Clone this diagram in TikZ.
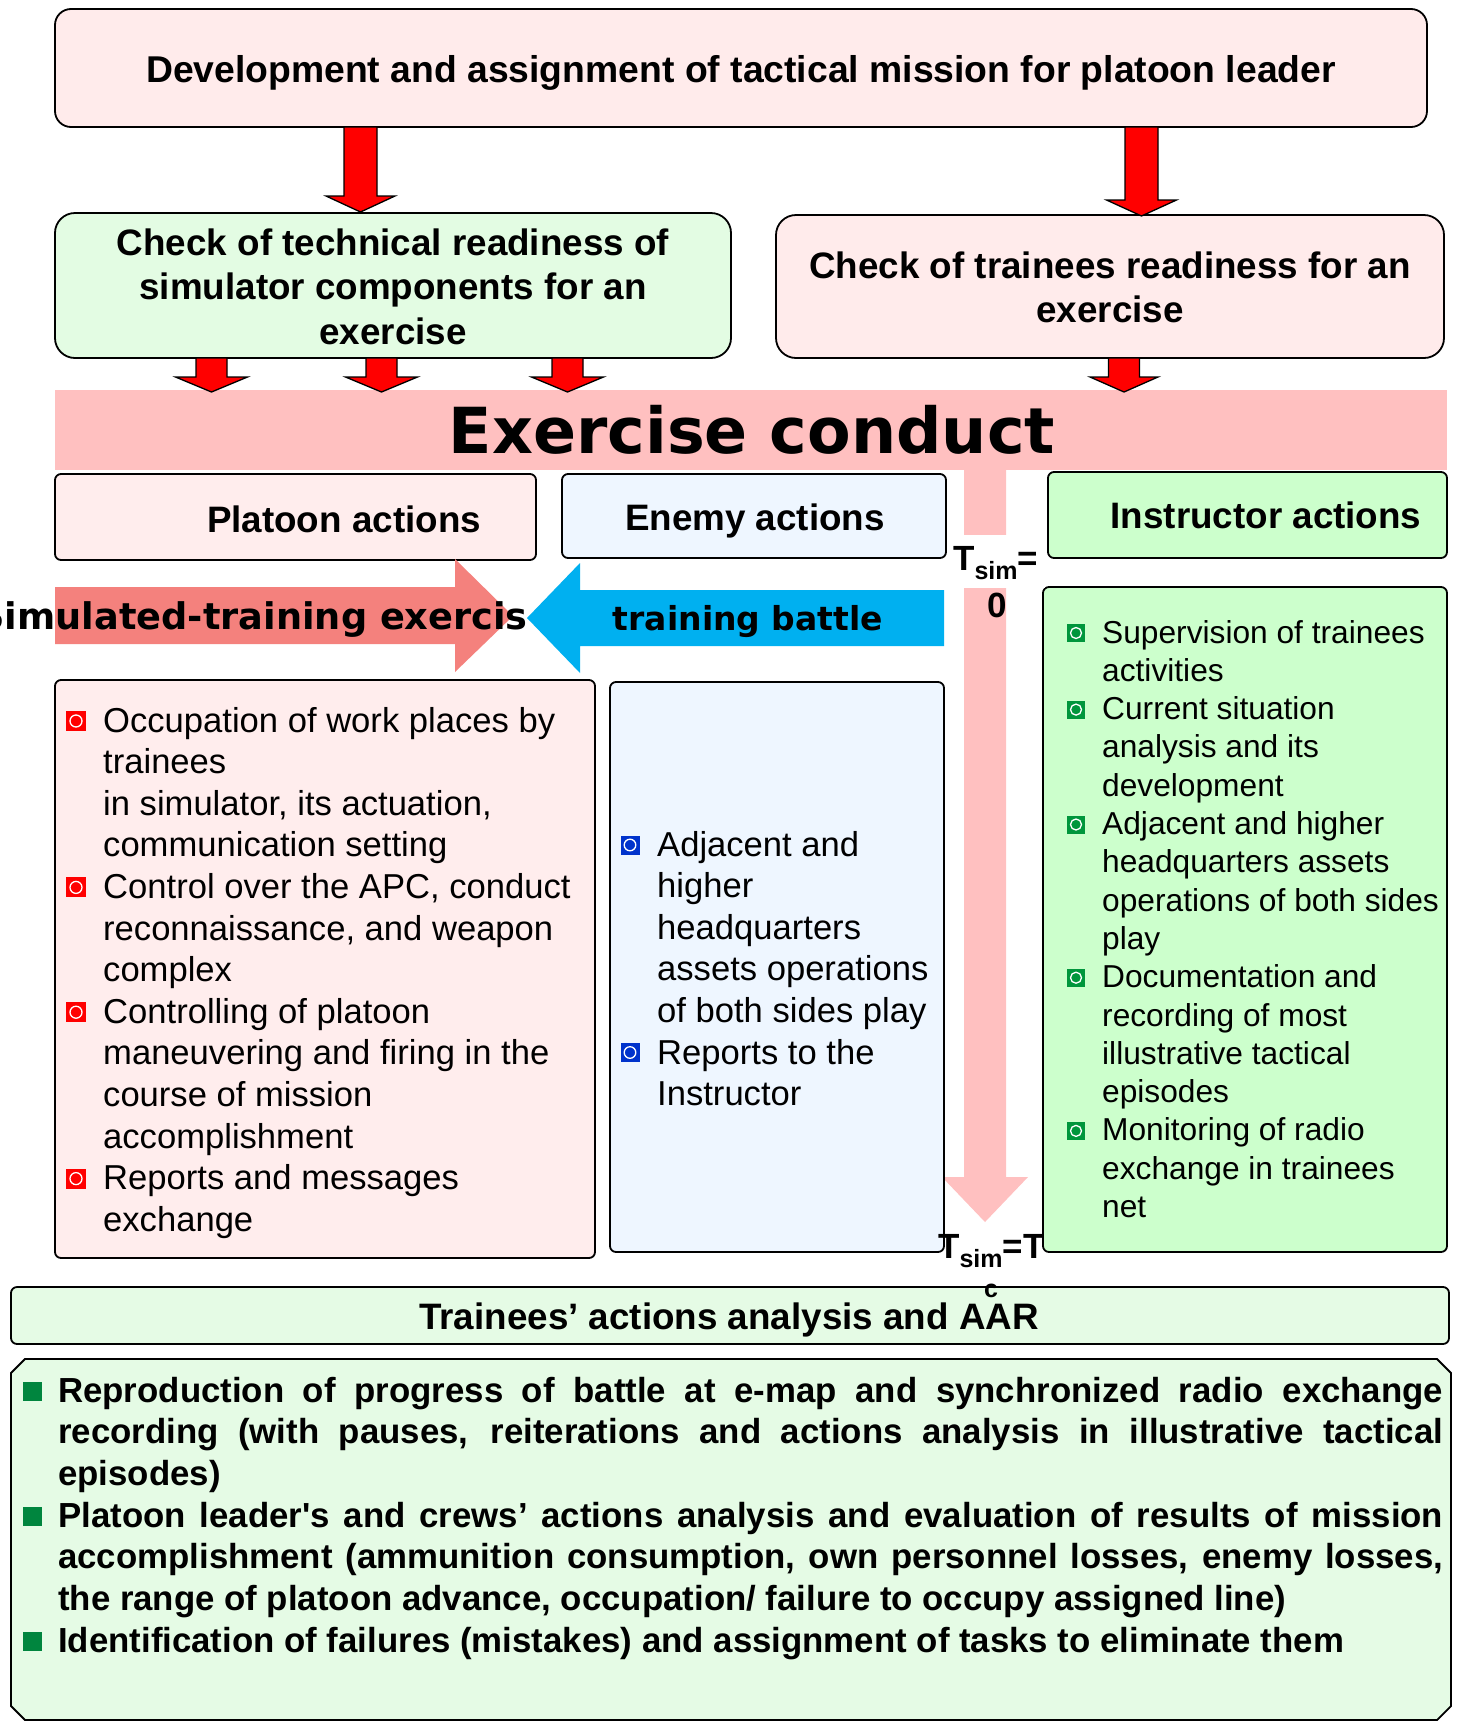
\documentclass[tikz,border=0pt]{standalone}
\usepackage{fontspec}
\setmainfont{Liberation Sans}[Ligatures=TeXOff]
\newfontfamily\widebold{DejaVu Sans}
\newcommand\setfs[2]{\fontsize{#1pt}{#2pt}\selectfont}
% stacked lines whose box baseline is the first line's baseline
\newcommand\stackl[1]{\vtop{\halign{##\hfil\cr#1\crcr}}}
\newcommand\stackc[1]{\vtop{\halign{\hfil##\hfil\cr#1\crcr}}}
\newcommand\jline[1]{\hbox to 1385pt{#1}}

\definecolor{missionpink}{HTML}{FFEBEB}
\definecolor{checkgreen}{HTML}{E3FCE3}
\definecolor{bandpink}{HTML}{FFC0C0}
\definecolor{platoonbg}{HTML}{FFEDED}
\definecolor{enemybg}{HTML}{EEF6FF}
\definecolor{instrbg}{HTML}{CCFFCC}
\definecolor{simarrow}{HTML}{F4817D}
\definecolor{battlearrow}{HTML}{00B0F0}
\definecolor{bulletred}{HTML}{FF0000}
\definecolor{bulletblue}{HTML}{0033CC}
\definecolor{bulletgreen}{HTML}{00963C}
\definecolor{squaregreen}{HTML}{00853E}
\definecolor{aargreen}{HTML}{E5FBE5}

% square bullet with a white ring: name, colour, x, y, size, ring radius
\newcommand\ringbullet[6]{%
  \node[rectangle, fill=#2, minimum size=#5pt, inner sep=0pt] (#1) at (#3,#4) {};
  \draw[white, line width=1.3pt] (#1.center) circle[radius=#6pt];}
% red block arrow pointing down: x centre, top, head start, tip, half shaft, half head
\newcommand\downblock[6]{%
  \filldraw[redblock] (#1-#5,#2) -- (#1+#5,#2) -- (#1+#5,#3) -- (#1+#6,#3)
    -- (#1,#4) -- (#1-#6,#3) -- (#1-#5,#3) -- cycle;}

\begin{document}
\begin{tikzpicture}[x=1pt, y=-1pt,
  frame/.style={draw=black, line width=1.8pt, inner sep=0pt},
  hdr/.style={font={\bfseries\setfs{36.8}{44.5}}, inner sep=0pt},
  body/.style={font={\setfs{34.6}{41.6}}, inner sep=0pt, anchor=base west},
  bodysmall/.style={font={\setfs{31.7}{38.3}}, inner sep=0pt, anchor=base west},
  tlabel/.style={font={\bfseries\setfs{35}{40}}, inner sep=0pt},
  redblock/.style={fill=red, draw=black, line width=1.3pt, line join=miter}]
\useasboundingbox (0,0) rectangle (1458,1722);
\clip (0,0) rectangle (1458,1722);
\fill[white] (0,0) rectangle (1458,1722);

% mission assignment
\node[frame, rounded corners=16pt, fill=missionpink, minimum width=1372pt, minimum height=118pt] (mission) at (741,68) {};
\node[hdr, font={\bfseries\setfs{37.3}{44.5}}, anchor=base] (missiontext) at (741,82) {Development and assignment of tactical mission for platoon leader};

% readiness checks
\node[frame, rounded corners=20pt, fill=checkgreen, minimum width=676pt, minimum height=145pt] (techcheck) at (393,285.5) {};
\node[hdr, anchor=base] (techtext) at (393,255) {\stackc{Check of technical readiness of\cr simulator components for an\cr exercise}};
\node[frame, rounded corners=20pt, fill=missionpink, minimum width=668pt, minimum height=143pt] (traineecheck) at (1110,286.5) {};
\node[hdr, anchor=base] (traineetext) at (1110,278) {\stackc{Check of trainees readiness for an\cr exercise}};

\downblock{360.5}{127}{196}{212}{16.5}{34.5}
\downblock{1141.5}{127}{200}{216}{16.5}{35}

% exercise conduct band and simulation time arrow
\node[fill=bandpink, minimum width=1392pt, minimum height=80pt, inner sep=0pt] (band) at (751,430) {};
\fill[bandpink] (964,460) -- (1006,460) -- (1006,1177) -- (1028,1177) -- (985,1222)
  -- (942,1177) -- (964,1177) -- cycle;
\node[font={\widebold\bfseries\setfs{63.5}{70}}, inner sep=0pt, anchor=base] (bandtext) at (752,453) {Exercise conduct};

\downblock{211.5}{358}{377}{392}{15.5}{36}
\downblock{381.5}{358}{377}{392}{15.5}{36}
\downblock{567.5}{358}{377}{392}{15.5}{36}
\downblock{1124}{358}{377}{392}{15.5}{34}

% column headers
\node[frame, rounded corners=6pt, fill=platoonbg, minimum width=481pt, minimum height=86pt] (platoonhdr) at (295.5,517) {};
\node[hdr, anchor=base] (platoontext) at (344,532) {Platoon actions};
\node[frame, rounded corners=6pt, fill=enemybg, minimum width=384pt, minimum height=84pt] (enemyhdr) at (754,516) {};
\node[hdr, anchor=base] (enemytext) at (755,530) {Enemy actions};
\node[frame, rounded corners=6pt, fill=instrbg, minimum width=399pt, minimum height=86pt] (instrhdr) at (1247.5,515) {};
\node[hdr, anchor=base] (instrtext) at (1266,528) {Instructor actions};

% opposing block arrows
\fill[simarrow] (55,587) -- (455,587) -- (455,559) -- (513,616) -- (455,672) -- (455,644) -- (55,644) -- cycle;
\fill[battlearrow] (944,590) -- (580,590) -- (580,563) -- (527,618) -- (580,673) -- (580,646) -- (944,646) -- cycle;
\node[font={\widebold\bfseries\setfs{36.7}{40}}, inner sep=0pt, anchor=base east] (simtext) at (528,629) {Simulated-training exercis};
\node[font={\widebold\bfseries\setfs{33}{38}}, inner sep=0pt, anchor=base] (battletext) at (748,630) {training battle};

% action lists
\node[frame, rounded corners=6pt, fill=platoonbg, minimum width=540pt, minimum height=578pt] (platoonlist) at (325,969) {};
\node[frame, rounded corners=6pt, fill=enemybg, minimum width=334pt, minimum height=570pt] (enemylist) at (777,967) {};
\node[frame, rounded corners=6pt, fill=instrbg, minimum width=404pt, minimum height=665pt] (instrlist) at (1245,919.5) {};

\node[body] (platoonitems) at (103,732) {\stackl{Occupation of work places by\cr trainees\cr in simulator, its actuation,\cr
  communication setting\cr Control over the APC, conduct\cr reconnaissance, and weapon\cr complex\cr
  Controlling of platoon\cr maneuvering and firing in the\cr course of mission\cr accomplishment\cr
  Reports and messages\cr exchange}};
\ringbullet{pb1}{bulletred}{76}{721}{20}{6}
\ringbullet{pb2}{bulletred}{76}{887.4}{20}{6}
\ringbullet{pb3}{bulletred}{76}{1012.2}{20}{6}
\ringbullet{pb4}{bulletred}{76}{1178.6}{20}{6}

\node[body] (enemyitems) at (657,856) {\stackl{Adjacent and\cr higher\cr headquarters\cr assets operations\cr
  of both sides play\cr Reports to the\cr Instructor}};
\ringbullet{eb1}{bulletblue}{630}{845}{19}{5.8}
\ringbullet{eb2}{bulletblue}{630}{1052.5}{19}{5.8}

\node[bodysmall] (instritems) at (1102,643) {\stackl{Supervision of trainees\cr activities\cr Current situation\cr
  analysis and its\cr development\cr Adjacent and higher\cr headquarters assets\cr operations of both sides\cr
  play\cr Documentation and\cr recording of most\cr illustrative tactical\cr episodes\cr
  Monitoring of radio\cr exchange in trainees\cr net}};
\ringbullet{ib1}{bulletgreen}{1076}{633}{18}{5.5}
\ringbullet{ib2}{bulletgreen}{1076}{709.6}{18}{5.5}
\ringbullet{ib3}{bulletgreen}{1076}{824.5}{18}{5.5}
\ringbullet{ib4}{bulletgreen}{1076}{977.7}{18}{5.5}
\ringbullet{ib5}{bulletgreen}{1076}{1130.9}{18}{5.5}

% simulation start mark
\fill[white] (953,535) rectangle (1045,588);
\node[tlabel, anchor=base west] (tstart) at (953,570) {T\raisebox{-9pt}{\setfs{25}{28}sim}=};
\node[tlabel, anchor=base] (tstartval) at (997,617) {0};

% after-action review
\node[frame, rounded corners=6pt, fill=aargreen, minimum width=1438pt, minimum height=57pt] (aarhdr) at (730,1315.5) {};
\node[hdr, anchor=base] (aartext) at (729,1329) {Trainees’ actions analysis and AAR};

% simulation end mark
\node[tlabel, anchor=base west] (tend) at (938,1258) {T\raisebox{-9pt}{\setfs{25}{28}sim}=T};
\node[font={\bfseries\setfs{25}{28}}, inner sep=0pt, anchor=base] (tendsub) at (991,1297) {c};

\draw[fill=aargreen, line width=1.8pt] (25,1359) -- (1437,1359) -- (1451,1373) -- (1451,1706) -- (1437,1720)
  -- (25,1720) -- (11,1706) -- (11,1373) -- cycle;
\node[fill=squaregreen, minimum size=19pt, inner sep=0pt] (rs1) at (32,1391) {};
\node[fill=squaregreen, minimum size=19pt, inner sep=0pt] (rs2) at (32,1516) {};
\node[fill=squaregreen, minimum size=19pt, inner sep=0pt] (rs3) at (32,1641) {};
\node[font={\bfseries\setfs{34.8}{41.7}}, inner sep=0pt, anchor=base west] (reviewitems) at (58,1402) {\vtop{%
  \jline{Reproduction of progress of battle at e-map and synchronized radio exchange}
  \jline{recording (with pauses, reiterations and actions analysis in illustrative tactical}
  \hbox{episodes)}
  \jline{Platoon leader's and crews’ actions analysis and evaluation of results of mission}
  \jline{accomplishment (ammunition consumption, own personnel losses, enemy losses,}
  \hbox{the range of platoon advance, occupation/ failure to occupy assigned line)}
  \hbox{Identification of failures (mistakes) and assignment of tasks to eliminate them}}};
\end{tikzpicture}
\end{document}
